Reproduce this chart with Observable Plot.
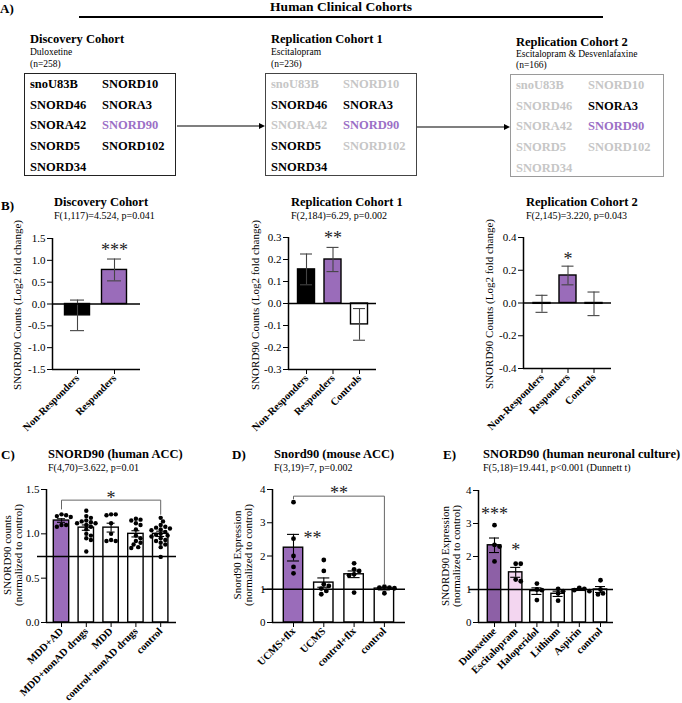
<!DOCTYPE html>
<html><head><meta charset="utf-8">
<script src="https://cdn.jsdelivr.net/npm/d3@7"></script>
<script src="https://cdn.jsdelivr.net/npm/@observablehq/plot@0.6"></script>
<style>
html,body{margin:0;padding:0;background:#fff;}
#fig{position:relative;width:682px;height:703px;overflow:hidden;font-family:"Liberation Serif","Times New Roman",serif;color:#000;}
.t{position:absolute;white-space:nowrap;line-height:1;transform:translateY(-50%);}
.b{font-weight:bold;}
.yl{position:absolute;white-space:nowrap;text-align:center;font-size:11px;line-height:11px;transform:translate(-50%,-50%) rotate(-90deg);}
.box{position:absolute;box-sizing:border-box;background:transparent;}
.plot{position:absolute;overflow:visible;}
.plot g[aria-label^="x-axis"] text{font-weight:bold;font-size:10.5px;}
</style></head><body><div id="fig"></div>
<script>
// ---------------- DATA ----------------
const purple = "#9a6cba";
// Panel A
const genes = ["snoU83B","SNORD10","SNORD46","SNORA3","SNORA42","SNORD90","SNORD5","SNORD102","SNORD34"];
const cohortNames = ["Discovery Cohort","Replication Cohort 1","Replication Cohort 2"];
const cohortDrugs = ["Duloxetine","Escitalopram","Escitalopram & Desvenlafaxine"];
const cohortN = ["(n=258)","(n=236)","(n=166)"];
const cohortHits = [genes, ["SNORD46","SNORA3","SNORD90","SNORD5","SNORD34"], ["SNORA3","SNORD90"]];
const highlightGene = "SNORD90";

// Panel B
const bCats2 = ["Non-Responders","Responders"];
const bCats3 = ["Non-Responders","Responders","Controls"];
const bTitles = ["Discovery Cohort","Replication Cohort 1","Replication Cohort 2"];
const bStats = ["F(1,117)=4.524, p=0.041","F(2,184)=6.29, p=0.002","F(2,145)=3.220, p=0.043"];
const b1Means = [-0.26, 0.78], b1Sems = [0.35, 0.25];
const b2Means = [0.155, 0.20, -0.095], b2Sems = [0.07, 0.055, 0.072];
const b3Means = [-0.005, 0.168, -0.005], b3Sems = [0.052, 0.057, 0.072];
const b1Stars = [{x:1, y:1.35, s:"***"}];
const b2Stars = [{x:1, y:0.32, s:"**"}];
const b3Stars = [{x:1, y:0.30, s:"*"}];

// Panel C
const cCats = ["MDD+AD","MDD+nonAD drugs","MDD","control+nonAD drugs","control"];
const cMeans = [1.15, 1.07, 1.07, 1.00, 1.00];
const cSems = [0.02, 0.03, 0.05, 0.035, 0.03];
const cDots = [
  [1.22, 1.20, 1.21, 1.19, 1.10, 1.08, 1.10],
  [1.26, 1.20, 1.18, 1.15, 1.14, 1.13, 1.12, 1.12, 1.10, 1.08, 1.05, 1.00, 0.98, 0.95, 0.93, 0.80],
  [1.22, 1.21, 1.22, 1.12, 1.00, 0.92, 0.92, 0.93],
  [1.17, 1.16, 1.15, 1.12, 1.10, 1.05, 0.98, 0.95, 0.92, 0.90, 0.88, 0.85, 0.84],
  [1.18, 1.14, 1.10, 1.08, 1.07, 1.06, 1.05, 1.04, 1.02, 1.00, 0.99, 0.98, 0.97, 0.95, 0.93, 0.92, 0.90, 0.88, 0.85, 0.74]
];
const cRef = 0.745;
const cBracket = [{x:0, y:1.28},{x:0, y:1.38},{x:4, y:1.38},{x:4, y:1.22}];
const cStars = [{x:2, y:1.46, s:"*"}];

// Panel D
const dCats = ["UCMS+flx","UCMS","control+flx","control"];
const dMeans = [2.25, 1.20, 1.45, 1.02];
const dSems = [0.40, 0.14, 0.10, 0.04];
const dDots = [
  [3.62, 2.52, 2.00, 1.67, 1.48],
  [1.88, 1.55, 1.15, 1.10, 1.02, 0.95, 0.85],
  [1.78, 1.60, 1.55, 1.45, 1.42, 0.90],
  [1.08, 1.05, 1.05, 1.03, 0.88]
];
const dRef = 1;
const dBracket = [{x:0, y:3.72},{x:0, y:3.8},{x:3, y:3.8},{x:3, y:1.15}];
const dStars = [{x:1.5, y:4.04, s:"**"},{x:0.63, y:2.68, s:"**"}];

// Panel E
const eCats = ["Duloxetine","Escitalopram","Haloperidol","Lithium","Aspirin","control"];
const eMeans = [2.34, 1.52, 0.95, 0.87, 1.00, 1.00];
const eSems = [0.22, 0.15, 0.10, 0.08, 0.03, 0.09];
const eDots = [
  [2.95, 2.35, 2.30, 1.85],
  [1.78, 1.78, 1.30, 1.25],
  [1.18, 1.00, 0.98, 0.68],
  [1.02, 0.95, 0.88, 0.66],
  [1.05, 1.02, 0.98, 0.95],
  [1.28, 1.00, 0.88, 0.85]
];
const eRef = 1;
const eStars = [{x:0, y:3.43, s:"***"},{x:1, y:2.35, s:"*"}];

// ---------------- LAYOUT HELPERS ----------------
const fig = document.getElementById("fig");
function txt(s, x, y, size, cls="", extra={}) {
  const d = document.createElement("div");
  d.className = "t " + cls;
  d.textContent = s;
  d.style.left = x + "px"; d.style.top = y + "px"; d.style.fontSize = size + "px";
  Object.assign(d.style, extra);
  fig.appendChild(d);
  return d;
}
function ylab(html, cx, cy) {
  const d = document.createElement("div");
  d.className = "yl"; d.innerHTML = html;
  d.style.left = cx + "px"; d.style.top = cy + "px";
  fig.appendChild(d);
}

// ---------------- PANEL A ----------------
txt("A)", 0, 8, 13, "b");
txt("Human Clinical Cohorts", 341, 7, 13.5, "b", {transform:"translate(-50%,-50%)"});
const aSvg = d3.select(fig).append("svg").attr("width",682).attr("height",185)
  .style("position","absolute").style("left","0px").style("top","0px");
aSvg.append("line").attr("x1",79).attr("x2",603).attr("y1",17).attr("y2",17).attr("stroke","#000").attr("stroke-width",2);
const boxLeft = [24, 265, 510], boxTop = [73, 73, 74], boxW = [152, 152, 154];
const boxStroke = ["#222", "#444", "#9a9a9a"];
const headY = [[39,53,65],[39,53,65],[42,55,66]];
cohortNames.forEach((name, k) => {
  const bx = boxLeft[k];
  txt(name, bx + 6, headY[k][0], 12.5, "b");
  txt(cohortDrugs[k], bx + 6, headY[k][1], 9.5);
  txt(cohortN[k], bx + 6, headY[k][2], 9.5);
  const box = document.createElement("div");
  box.className = "box";
  Object.assign(box.style, {left: bx+"px", top: boxTop[k]+"px", width: boxW[k]+"px", height: "103px", border: "1px solid " + boxStroke[k]});
  fig.appendChild(box);
  genes.forEach((g, i) => {
    const col = i % 2, row = Math.floor(i / 2);
    const hit = cohortHits[k].includes(g);
    const color = !hit ? "#c6c6c6" : (g === highlightGene ? "#9b70c6" : "#000");
    txt(g, bx + (col ? 78 : 6), boxTop[k] + 11 + row * 20.7, 12.5, "b", {color});
  });
});
function arrow(x1, x2, y) {
  aSvg.append("line").attr("x1",x1).attr("x2",x2-5).attr("y1",y).attr("y2",y).attr("stroke","#000").attr("stroke-width",1.2);
  aSvg.append("path").attr("d",`M${x2},${y} L${x2-6},${y-3} L${x2-6},${y+3} Z`).attr("fill","#000");
}
arrow(177, 265, 126);
arrow(417, 510, 127);

// ---------------- BAR PANELS ----------------
function swarm(vals, pxY, r) {
  const placed = [], out = new Array(vals.length).fill(0);
  const order = vals.map((v,i)=>i).sort((a,b)=>vals[b]-vals[a]);
  const cand = [0]; for (let k=1;k<12;k++){cand.push(k*r*1.05, -k*r*1.05);}
  for (const idx of order) {
    const y = vals[idx]*pxY;
    for (const cx of cand) {
      if (placed.every(p => Math.hypot(p.x-cx, p.y-y) >= 2*r*0.92)) { placed.push({x:cx,y}); out[idx]=cx; break; }
    }
  }
  return out;
}

function barPanel(cfg) {
  const [L,T,W,H] = cfg.box, [x0,x1,y0,y1] = cfg.frame;
  const {c0, step, cats, means, sems, fills, yDomain} = cfg;
  const xd = [(x0-c0)/step, (x1-c0)/step];
  const bh = cfg.barHalf/step, ch = cfg.capHalf/step;
  const rows = cats.map((c,i)=>({i, mean: means[i], sem: sems[i], fill: fills[i]}));
  const marks = [];
  marks.push(Plot.rect(rows, {x1: d=>d.i-bh, x2: d=>d.i+bh, y1: ()=>0, y2: d=>d.mean, fill: d=>d.fill, stroke:"#000", strokeWidth:1.4}));
  const ec = cfg.errColor || "#000";
  marks.push(Plot.ruleX(rows, {x: "i", y1: d=>d.mean-d.sem, y2: d=>d.mean+d.sem, stroke: ec, strokeWidth:1.1}));
  marks.push(Plot.ruleY(rows, {y: d=>d.mean+d.sem, x1: d=>d.i-ch, x2: d=>d.i+ch, stroke: ec, strokeWidth:1.1}));
  marks.push(Plot.ruleY(rows, {y: d=>d.mean-d.sem, x1: d=>d.i-ch, x2: d=>d.i+ch, stroke: ec, strokeWidth:1.1}));
  if (cfg.dots) {
    const pxY = (y1-y0)/(yDomain[1]-yDomain[0]);
    const pts = [];
    cfg.dots.forEach((vals, i) => {
      const off = swarm(vals, pxY, cfg.dotR);
      vals.forEach((v, j) => pts.push({x: i + off[j]/step, v}));
    });
    marks.push(Plot.dot(pts, {x: "x", y: "v", r: cfg.dotR, fill: "#000", stroke: "none"}));
  }
  marks.push(Plot.ruleX([xd[0]], {y1: ()=>yDomain[0], y2: ()=>yDomain[1], strokeWidth:1.5}));
  marks.push(Plot.ruleY([yDomain[0]], {strokeWidth:1.5}));
  if (cfg.zero) marks.push(Plot.ruleY([0], {strokeWidth:1.5}));
  if (cfg.ref != null) marks.push(Plot.ruleY([cfg.ref], {x1: ()=>xd[0]-9/step, x2: ()=>xd[1], strokeWidth:1.5}));
  if (cfg.bracket) marks.push(Plot.line(cfg.bracket, {x:"x", y:"y", stroke:"#666", strokeWidth:1}));
  if (cfg.stars) marks.push(Plot.text(cfg.stars, {x:"x", y:"y", text:"s", fontSize:18, dy:5, fill:"#222"}));
  const p = Plot.plot({
    width: W, height: H,
    marginLeft: x0-L, marginRight: L+W-x1, marginTop: y0-T, marginBottom: T+H-y1,
    color: {type: "identity"},
    x: {type:"linear", domain: xd, ticks: cats.map((_,i)=>i), tickFormat: i=>cats[i], tickRotate:-45, tickSize:5, tickPadding:2, label:null},
    y: {domain: yDomain, ticks: cfg.yTicks, tickFormat: cfg.yFmt, tickSize:5, tickPadding:2, label:null},
    style: {fontFamily:"Liberation Serif", fontSize:"11px", background:"transparent", overflow:"visible"},
    marks
  });
  p.classList.add("plot");
  p.style.left = L + "px"; p.style.top = T + "px";
  fig.appendChild(p);
}

const f1 = d => d.toFixed(1), f0 = d => String(d);

// Panel B
txt("B)", 1, 205, 13, "b");
[54, 291, 526].forEach((x, k) => { txt(bTitles[k], x, 202, 12.5, "b"); txt(bStats[k], x, 216, 10); });
barPanel({box:[0,225,230,215], frame:[52,140,238,369], c0:77, step:37, cats:bCats2, means:b1Means, sems:b1Sems,
  fills:["#000", purple], yDomain:[-1.5,1.5], yTicks:[-1.5,-1,-0.5,0,0.5,1,1.5], yFmt:f1, barHalf:12.5, capHalf:7, zero:true, stars:b1Stars, errColor:"#444"});
barPanel({box:[232,225,228,215], frame:[288,376,237,369], c0:306, step:26.5, cats:bCats3, means:b2Means, sems:b2Sems,
  fills:["#000", purple, "#fff"], yDomain:[-0.3,0.3], yTicks:[-0.3,-0.2,-0.1,0,0.1,0.2,0.3], yFmt:f1, barHalf:8.5, capHalf:6, zero:true, stars:b2Stars, errColor:"#444"});
barPanel({box:[462,225,220,215], frame:[523,611,237,368], c0:541.5, step:26, cats:bCats3, means:b3Means, sems:b3Sems,
  fills:["#000", purple, "#fff"], yDomain:[-0.4,0.4], yTicks:[-0.4,-0.2,0,0.2,0.4], yFmt:f1, barHalf:8.5, capHalf:6, zero:true, stars:b3Stars, errColor:"#444"});
ylab("SNORD90 Counts (Log2 fold change)", 17, 305);
ylab("SNORD90 Counts (Log2 fold change)", 255, 305);
ylab("SNORD90 Counts (Log2 fold change)", 489, 304);

// Panel C
txt("C)", 1, 454, 13, "b");
txt("SNORD90 (human ACC)", 48, 454, 12.5, "b");
txt("F(4,70)=3.622, p=0.01", 48, 468, 10);
barPanel({box:[0,475,230,228], frame:[46,176,489,622], c0:61, step:24.8, cats:cCats, means:cMeans, sems:cSems,
  fills:[purple,"#fff","#fff","#fff","#fff"], yDomain:[0,1.5], yTicks:[0,0.5,1,1.5], yFmt:f1, barHalf:7.7, capHalf:4,
  dots:cDots, dotR:2.2, ref:cRef, bracket:cBracket, stars:cStars});
ylab("SNORD90 counts<br>(normalized to control)", 13, 555);

// Panel D
txt("D)", 232, 454, 13, "b");
txt("Snord90 (mouse ACC)", 274, 454, 12.5, "b");
txt("F(3,19)=7, p=0.002", 274, 468, 10);
barPanel({box:[232,475,218,228], frame:[272,405,489,622], c0:293, step:30.3, cats:dCats, means:dMeans, sems:dSems,
  fills:[purple,"#fff","#fff","#fff"], yDomain:[0,4], yTicks:[0,1,2,3,4], yFmt:f0, barHalf:9.7, capHalf:6,
  dots:dDots, dotR:2.4, ref:dRef, bracket:dBracket, stars:dStars});
ylab("Snord90 Expression<br>(normalized to control)", 243, 555);

// Panel E
txt("E)", 443, 454, 13, "b");
txt("SNORD90 (human neuronal culture)", 483, 454, 12.5, "b");
txt("F(5,18)=19.441, p<0.001 (Dunnett t)", 483, 468, 10);
barPanel({box:[452,475,230,228], frame:[478,613,490,622], c0:494, step:21.2, cats:eCats, means:eMeans, sems:eSems,
  fills:["#8d60a6","#f3d6f0","#fff","#fff","#fff","#fff"], yDomain:[0,4], yTicks:[0,1,2,3,4], yFmt:f0, barHalf:6.7, capHalf:5,
  dots:eDots, dotR:2.4, ref:eRef, stars:eStars});
ylab("SNORD90 Expression<br>(normalized to control)", 451, 556);
</script></body></html>
